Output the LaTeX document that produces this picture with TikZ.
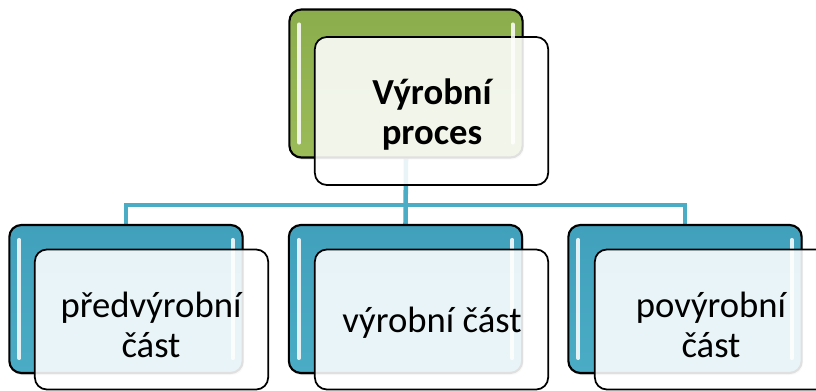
\documentclass[tikz,border=0pt]{standalone}
\usepackage{fontspec}
\setmainfont{Carlito}
\usetikzlibrary{calc,shadows}
\definecolor{grn}{HTML}{9BBB59}
\definecolor{grnTop}{HTML}{8CAD4B}
\definecolor{blu}{HTML}{4BACC6}
\definecolor{bluTop}{HTML}{41A1BC}
\definecolor{lnk}{HTML}{4BACC6}
\pgfdeclarelayer{bg}
\pgfsetlayers{bg,main}
\tikzset{
  backbox/.style={draw=black, line width=1.6pt, rounded corners=9pt,
    minimum width=175pt, minimum height=111pt, inner sep=0pt,
    drop shadow={opacity=0.35, shadow xshift=1pt, shadow yshift=-1.5pt}},
  greenbox/.style={backbox, top color=grnTop, bottom color=grn},
  bluebox/.style={backbox, top color=bluTop, bottom color=blu},
  frontbox/.style={draw=black, line width=1.3pt, rounded corners=9pt,
    fill=white, fill opacity=0.88, minimum width=175pt, inner sep=0pt},
  lbl/.style={font=\fontsize{27.5}{30}\selectfont, align=center, text=black, inner sep=0pt},
  link/.style={draw=lnk, line width=3.4pt},
  gloss/.style={draw=white, line width=3pt, line cap=round, opacity=0.85}
}
\begin{document}
\begin{tikzpicture}[x=0.75pt, y=-0.75pt]
\useasboundingbox (0,0) rectangle (816,391);
% top
\node[greenbox] (topback) at (406,83.5) {};
\node[frontbox, minimum height=111pt] (topfront) at (431.5,111) {};
\node[lbl, font=\fontsize{27.5}{30}\selectfont\bfseries] (toptext) at (432,115) {Výrobní\\proces};
% bottom backs
\node[bluebox] (lback) at (126,299) {};
\node[bluebox] (mback) at (405.5,299) {};
\node[bluebox] (rback) at (685,299) {};
% glosses
\foreach \n in {topback,lback,mback,rback}{
  \draw[gloss] ($(\n.north west)+(11,16)$) -- ($(\n.south west)+(11,-16)$);
  \draw[gloss] ($(\n.north east)+(-11,16)$) -- ($(\n.south east)+(-11,-16)$);
}
% bottom fronts
\node[frontbox, minimum height=105pt] (lfront) at (151.5,319.5) {};
\node[frontbox, minimum height=105pt] (mfront) at (431.5,319.5) {};
\node[frontbox, minimum height=105pt] (rfront) at (711.5,319.5) {};
\node[lbl] (ltext) at (151,325) {předvýrobní\\část};
\node[lbl] (mtext) at (432,323) {výrobní část};
\node[lbl] (rtext) at (711,325) {povýrobní\\část};
% connectors
\coordinate (hub) at (406,205);
\begin{pgfonlayer}{bg}
  \draw[link] (topback.south) -- (mback.north);
  \draw[link] (lback.north) |- (hub) -| (rback.north);
\end{pgfonlayer}
\end{tikzpicture}
\end{document}
